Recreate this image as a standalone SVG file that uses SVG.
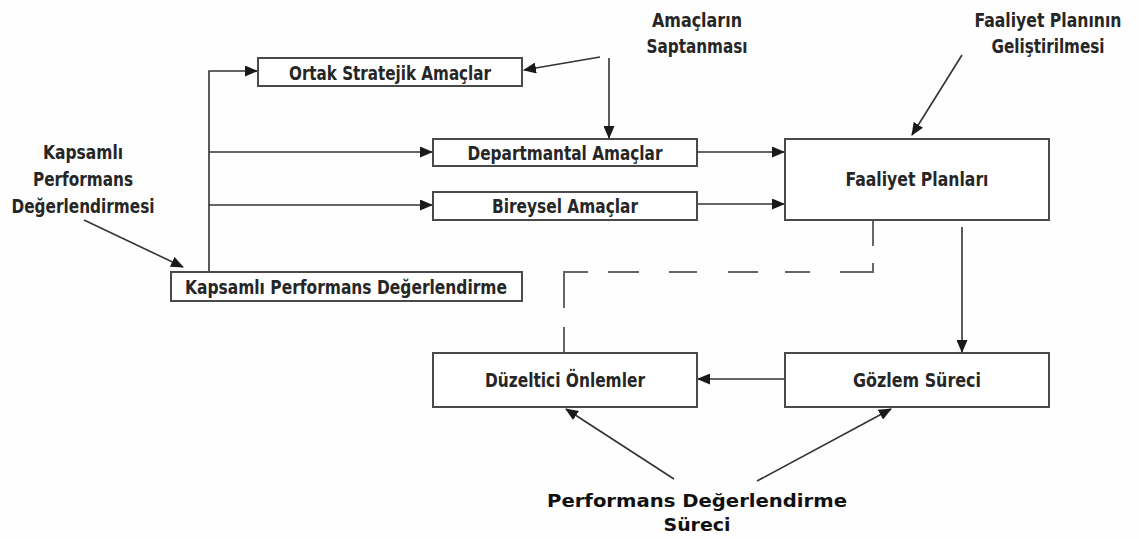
<svg xmlns="http://www.w3.org/2000/svg" width="1139" height="539" viewBox="0 0 1139 539">
  <style>
    .box { fill: #ffffff; stroke: #4a4a4a; stroke-width: 2; }
    .lbl { font-family: "Liberation Sans Narrow", "DejaVu Sans Condensed", "Liberation Sans", sans-serif; font-weight: bold; font-size: 20px; fill: #262626; text-anchor: middle; }
    .cap { font-family: "DejaVu Sans", "Liberation Sans", sans-serif; font-weight: bold; font-size: 18px; fill: #111111; text-anchor: middle; }
    .link { fill: none; stroke: #333333; stroke-width: 1.6; }
    .dash { fill: none; stroke: #666666; stroke-width: 2; }
  </style>
  <defs>
    <marker id="arrow" markerUnits="userSpaceOnUse" markerWidth="13" markerHeight="11" refX="12" refY="5.5" orient="auto">
      <path d="M0,0 L13,5.5 L0,11 Z" fill="#1a1a1a"/>
    </marker>
  </defs>
  <rect width="1139" height="539" fill="#fefefe"/>

  <!-- connectors -->
  <g id="connectors">
    <path class="link" d="M209,272 L209,71 L257,71" marker-end="url(#arrow)"/>
    <path class="link" d="M209,152 L432,152" marker-end="url(#arrow)"/>
    <path class="link" d="M209,205 L432,205" marker-end="url(#arrow)"/>
    <path class="link" d="M697,152 L784,152" marker-end="url(#arrow)"/>
    <path class="link" d="M697,204 L784,204" marker-end="url(#arrow)"/>
    <path class="link" d="M84,220 L183,267" marker-end="url(#arrow)"/>
    <path class="link" d="M600,57 L524,70" marker-end="url(#arrow)"/>
    <path class="link" d="M609,58 L609,138" marker-end="url(#arrow)"/>
    <path class="link" d="M962,55 L912,135" marker-end="url(#arrow)"/>
    <path class="link" d="M962,227 L962,352" marker-end="url(#arrow)"/>
    <path class="link" d="M785,379 L698,379" marker-end="url(#arrow)"/>
    <path class="link" d="M674,479 L566,409" marker-end="url(#arrow)"/>
    <path class="link" d="M757,481 L891,409" marker-end="url(#arrow)"/>
    <!-- dashed feedback from the action plans to corrective measures -->
    <path class="dash" d="M873,220 L873,246 M873,263 L873,272 L840,272 M810,272 L785,272 M758,272 L728,272 M697,272 L669,272 M639,272 L608,272 M588,272 L564,272 L564,308 M564,327 L564,353"/>
  </g>

  <g id="ortak">
    <rect class="box" x="258" y="58" width="264" height="28"/>
    <text class="lbl" x="390" y="80" textLength="202" lengthAdjust="spacingAndGlyphs">Ortak Stratejik Amaçlar</text>
  </g>
  <g id="departmantal">
    <rect class="box" x="433" y="139" width="264" height="27"/>
    <text class="lbl" x="565" y="160" textLength="195" lengthAdjust="spacingAndGlyphs">Departmantal Amaçlar</text>
  </g>
  <g id="bireysel">
    <rect class="box" x="433" y="192" width="264" height="28"/>
    <text class="lbl" x="565" y="213" textLength="146" lengthAdjust="spacingAndGlyphs">Bireysel Amaçlar</text>
  </g>
  <g id="faaliyet">
    <rect class="box" x="785" y="139" width="264" height="81"/>
    <text class="lbl" x="917" y="186" textLength="143" lengthAdjust="spacingAndGlyphs">Faaliyet Planları</text>
  </g>
  <g id="kapsamli">
    <rect class="box" x="171" y="272" width="351" height="29"/>
    <text class="lbl" x="346" y="294" textLength="322" lengthAdjust="spacingAndGlyphs">Kapsamlı Performans Değerlendirme</text>
  </g>
  <g id="duzeltici">
    <rect class="box" x="433" y="353" width="264" height="54"/>
    <text class="lbl" x="565" y="387" textLength="160" lengthAdjust="spacingAndGlyphs">Düzeltici Önlemler</text>
  </g>
  <g id="gozlem">
    <rect class="box" x="785" y="353" width="264" height="54"/>
    <text class="lbl" x="917" y="387" textLength="128" lengthAdjust="spacingAndGlyphs">Gözlem Süreci</text>
  </g>

  <g id="label-kapsamli">
    <text class="lbl" x="83" y="159" textLength="80" lengthAdjust="spacingAndGlyphs">Kapsamlı</text>
    <text class="lbl" x="83" y="186" textLength="100" lengthAdjust="spacingAndGlyphs">Performans</text>
    <text class="lbl" x="83" y="213" textLength="143" lengthAdjust="spacingAndGlyphs">Değerlendirmesi</text>
  </g>
  <g id="label-amaclar">
    <text class="lbl" x="697" y="27" textLength="90" lengthAdjust="spacingAndGlyphs">Amaçların</text>
    <text class="lbl" x="697" y="53" textLength="101" lengthAdjust="spacingAndGlyphs">Saptanması</text>
  </g>
  <g id="label-faaliyet">
    <text class="lbl" x="1048" y="27" textLength="147" lengthAdjust="spacingAndGlyphs">Faaliyet Planının</text>
    <text class="lbl" x="1048" y="53" textLength="113" lengthAdjust="spacingAndGlyphs">Geliştirilmesi</text>
  </g>
  <g id="label-surec">
    <text class="cap" x="697" y="507" textLength="300" lengthAdjust="spacingAndGlyphs">Performans Değerlendirme</text>
    <text class="cap" x="697" y="531" textLength="67" lengthAdjust="spacingAndGlyphs">Süreci</text>
  </g>
</svg>
